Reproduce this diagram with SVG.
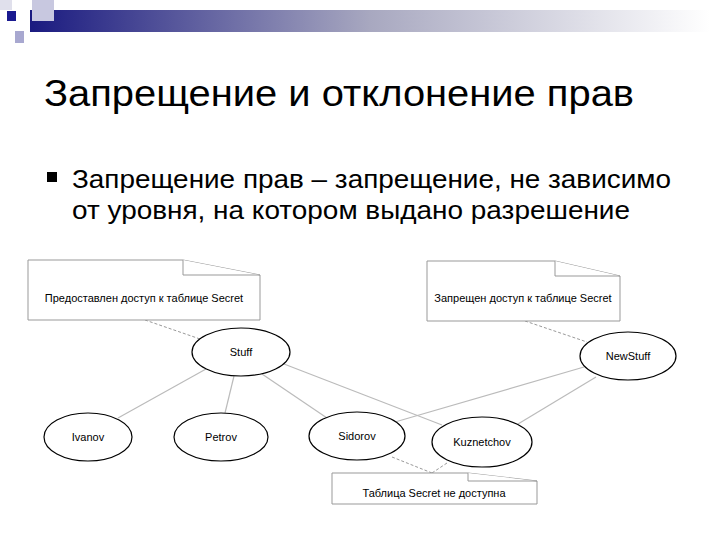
<svg xmlns="http://www.w3.org/2000/svg" width="720" height="540" viewBox="0 0 720 540">
<defs>
<linearGradient id="g" x1="0" x2="1" y1="0" y2="0"><stop offset="0" stop-color="#1a1a80"/><stop offset="0.5" stop-color="#a8a8c0"/><stop offset="1" stop-color="#ffffff"/></linearGradient>
<style>
.n{fill:#fff;stroke:#000;stroke-width:1.2}
.note{fill:#fff;stroke:#999;stroke-width:1}
.c{stroke:#bbb;stroke-width:1.2;fill:none}
.d{stroke:#999;stroke-width:1;stroke-dasharray:3,2;fill:none}
.t{font-family:"Liberation Sans",Arial,sans-serif;font-size:11px;fill:#000;text-anchor:middle}
.h{font-family:"Liberation Sans",Arial,sans-serif;fill:#000}
</style>
</defs>
<rect width="720" height="540" fill="#fff"/>
<rect x="30" y="10" width="680" height="22" fill="url(#g)"/>
<rect x="0" y="0" width="12" height="10" fill="#e0e0ec"/>
<rect x="32" y="0" width="22" height="21" fill="#c8c8e0"/>
<rect x="7" y="11" width="9" height="10" fill="#1a1a90"/>
<rect x="15" y="31" width="9" height="12" fill="#a8a8d0"/>
<text class="h" x="44" y="106" font-size="36" textLength="590" lengthAdjust="spacingAndGlyphs">Запрещение и отклонение прав</text>
<rect x="47" y="172" width="10" height="10" fill="#000"/>
<text class="h" x="72" y="188" font-size="25" textLength="599" lengthAdjust="spacingAndGlyphs">Запрещение прав – запрещение, не зависимо</text>
<text class="h" x="72" y="219" font-size="25" textLength="558" lengthAdjust="spacingAndGlyphs">от уровня, на котором выдано разрешение</text>
<g id="connectors">
<line class="c" x1="206" y1="369" x2="118" y2="418"/>
<line class="c" x1="234" y1="376" x2="225" y2="413"/>
<line class="c" x1="262" y1="374" x2="327" y2="418"/>
<line class="c" x1="284" y1="364" x2="442" y2="425"/>
<line class="c" x1="584" y1="367" x2="395" y2="422"/>
<line class="c" x1="596" y1="377" x2="518" y2="424"/>
<line class="d" x1="145" y1="320" x2="200" y2="339"/>
<line class="d" x1="525" y1="321" x2="587" y2="342"/>
<line class="d" x1="392" y1="457" x2="432" y2="473"/>
<line class="d" x1="447" y1="463" x2="432" y2="473"/>
</g>
<g id="note1"><path class="note" d="M28,260 H183 L260,275 V320 H28 Z"/><path class="note" d="M183,260 V275 H260" fill="none"/><text class="t" x="144" y="302">Предоставлен доступ к таблице Secret</text></g>
<g id="note2"><path class="note" d="M427,261 H555 L620,276 V321 H427 Z"/><path class="note" d="M555,261 V276 H620" fill="none"/><text class="t" x="523" y="302">Запрещен доступ к таблице Secret</text></g>
<g id="note3"><path class="note" d="M332,473 H468 L537,481 V504 H332 Z"/><path class="note" d="M468,473 V481 H537" fill="none"/><text class="t" x="434" y="497">Таблица Secret не доступна</text></g>
<g id="stuff"><ellipse class="n" cx="241" cy="352" rx="49" ry="24"/><text class="t" x="241" y="356">Stuff</text></g>
<g id="newstuff"><ellipse class="n" cx="628" cy="356" rx="48" ry="24"/><text class="t" x="628" y="360">NewStuff</text></g>
<g id="ivanov"><ellipse class="n" cx="88" cy="437" rx="44" ry="24"/><text class="t" x="88" y="441">Ivanov</text></g>
<g id="petrov"><ellipse class="n" cx="221" cy="437" rx="47" ry="24"/><text class="t" x="221" y="441">Petrov</text></g>
<g id="sidorov"><ellipse class="n" cx="357" cy="436" rx="48" ry="24"/><text class="t" x="357" y="440">Sidorov</text></g>
<g id="kuznetchov"><ellipse class="n" cx="482" cy="442" rx="50" ry="25"/><text class="t" x="482" y="446">Kuznetchov</text></g>
</svg>
